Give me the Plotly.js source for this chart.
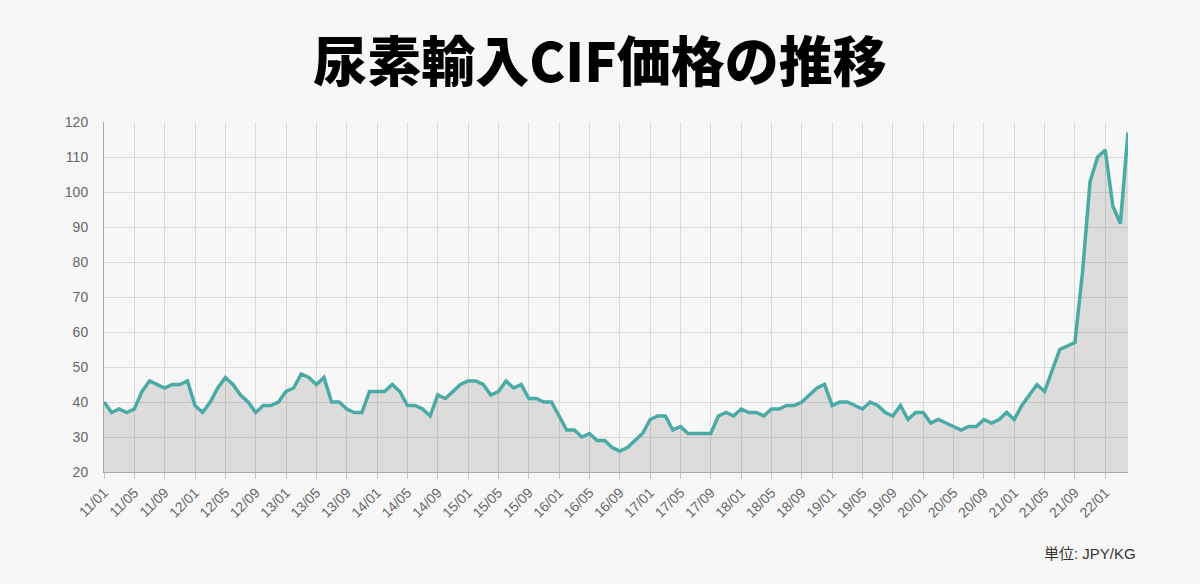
<!DOCTYPE html>
<html>
<head>
<meta charset="utf-8">
<script src="https://cdn.plot.ly/plotly-3.0.1.min.js"></script>
<style>
html,body{margin:0;padding:0;background:#f7f7f7;}
#chart{width:1200px;height:584px;}
</style>
</head>
<body>
<div id="chart"></div>
<script>
var months = [
"11/01","11/02","11/03","11/04","11/05","11/06","11/07","11/08","11/09","11/10","11/11","11/12",
"12/01","12/02","12/03","12/04","12/05","12/06","12/07","12/08","12/09","12/10","12/11","12/12",
"13/01","13/02","13/03","13/04","13/05","13/06","13/07","13/08","13/09","13/10","13/11","13/12",
"14/01","14/02","14/03","14/04","14/05","14/06","14/07","14/08","14/09","14/10","14/11","14/12",
"15/01","15/02","15/03","15/04","15/05","15/06","15/07","15/08","15/09","15/10","15/11","15/12",
"16/01","16/02","16/03","16/04","16/05","16/06","16/07","16/08","16/09","16/10","16/11","16/12",
"17/01","17/02","17/03","17/04","17/05","17/06","17/07","17/08","17/09","17/10","17/11","17/12",
"18/01","18/02","18/03","18/04","18/05","18/06","18/07","18/08","18/09","18/10","18/11","18/12",
"19/01","19/02","19/03","19/04","19/05","19/06","19/07","19/08","19/09","19/10","19/11","19/12",
"20/01","20/02","20/03","20/04","20/05","20/06","20/07","20/08","20/09","20/10","20/11","20/12",
"21/01","21/02","21/03","21/04","21/05","21/06","21/07","21/08","21/09","21/10","21/11","21/12",
"22/01","22/02","22/03","22/04"
];
var prices = [
40,37,38,37,38,43,46,45,44,45,45,46,
39,37,40,44,47,45,42,40,37,39,39,40,
43,44,48,47,45,47,40,40,38,37,37,43,
43,43,45,43,39,39,38,36,42,41,43,45,
46,46,45,42,43,46,44,45,41,41,40,40,
36,32,32,30,31,29,29,27,26,27,29,31,
35,36,36,32,33,31,31,31,31,36,37,36,
38,37,37,36,38,38,39,39,40,42,44,45,
39,40,40,39,38,40,39,37,36,39,35,37,
37,34,35,34,33,32,33,33,35,34,35,37,
35,39,42,45,43,49,55,56,57,77,103,110,
112,96,91,117
];
var tickLabels = ["11/01","11/05","11/09","12/01","12/05","12/09","13/01","13/05","13/09","14/01","14/05","14/09",
"15/01","15/05","15/09","16/01","16/05","16/09","17/01","17/05","17/09","18/01","18/05","18/09",
"19/01","19/05","19/09","20/01","20/05","20/09","21/01","21/05","21/09","22/01"];
var yTicks = [20,30,40,50,60,70,80,90,100,110,120];
var titleText = "尿素輸入CIF価格の推移";
var unitText = "単位: JPY/KG";

var trace = {
  x: months,
  y: prices,
  type: 'scatter',
  mode: 'lines',
  fill: 'tozeroy',
  fillcolor: 'rgba(0,0,0,0.105)',
  line: {color: '#4aaaa5', width: 3.5},
  hoverinfo: 'x+y'
};

var tickFont = {family: '"Liberation Sans", Arial, sans-serif', size: 14, color: '#666'};

var layout = {
  width: 1200,
  height: 584,
  paper_bgcolor: '#f7f7f7',
  plot_bgcolor: '#f7f7f7',
  margin: {l: 104, r: 72, t: 122, b: 112},
  showlegend: false,
  title: {
    text: titleText,
    font: {family: '"Noto Sans CJK JP", sans-serif', size: 54, color: '#000', weight: 900},
    x: 0.5, xanchor: 'center',
    yref: 'container', y: 1 - 63/584, yanchor: 'middle'
  },
  xaxis: {
    type: 'category',
    range: [0, months.length - 1],
    tickmode: 'array',
    tickvals: tickLabels,
    ticktext: tickLabels,
    tickangle: -45,
    showgrid: true,
    gridcolor: '#dadada',
    gridwidth: 1,
    showline: true,
    linecolor: '#a8a8a8',
    linewidth: 1,
    ticks: 'outside',
    ticklen: 6,
    tickcolor: '#c8c8c8',
    tickfont: tickFont,
    zeroline: false,
    fixedrange: true
  },
  yaxis: {
    range: [20, 120],
    tickmode: 'array',
    tickvals: yTicks,
    ticktext: yTicks.map(String),
    showgrid: true,
    gridcolor: '#dadada',
    gridwidth: 1,
    showline: true,
    linecolor: '#a8a8a8',
    linewidth: 1,
    ticks: '',
    ticklabelstandoff: 12,
    tickfont: tickFont,
    zeroline: false,
    fixedrange: true
  },
  annotations: [{
    text: unitText,
    xref: 'paper', yref: 'paper',
    x: (1138 - 104) / 1024, xanchor: 'right',
    y: (472 - 553) / 350, yanchor: 'middle',
    showarrow: false,
    font: {family: '"Liberation Sans", "Noto Sans CJK JP", sans-serif', size: 15, color: '#333'}
  }]
};

Plotly.newPlot('chart', [trace], layout, {displayModeBar: false, staticPlot: true});
</script>
</body>
</html>
